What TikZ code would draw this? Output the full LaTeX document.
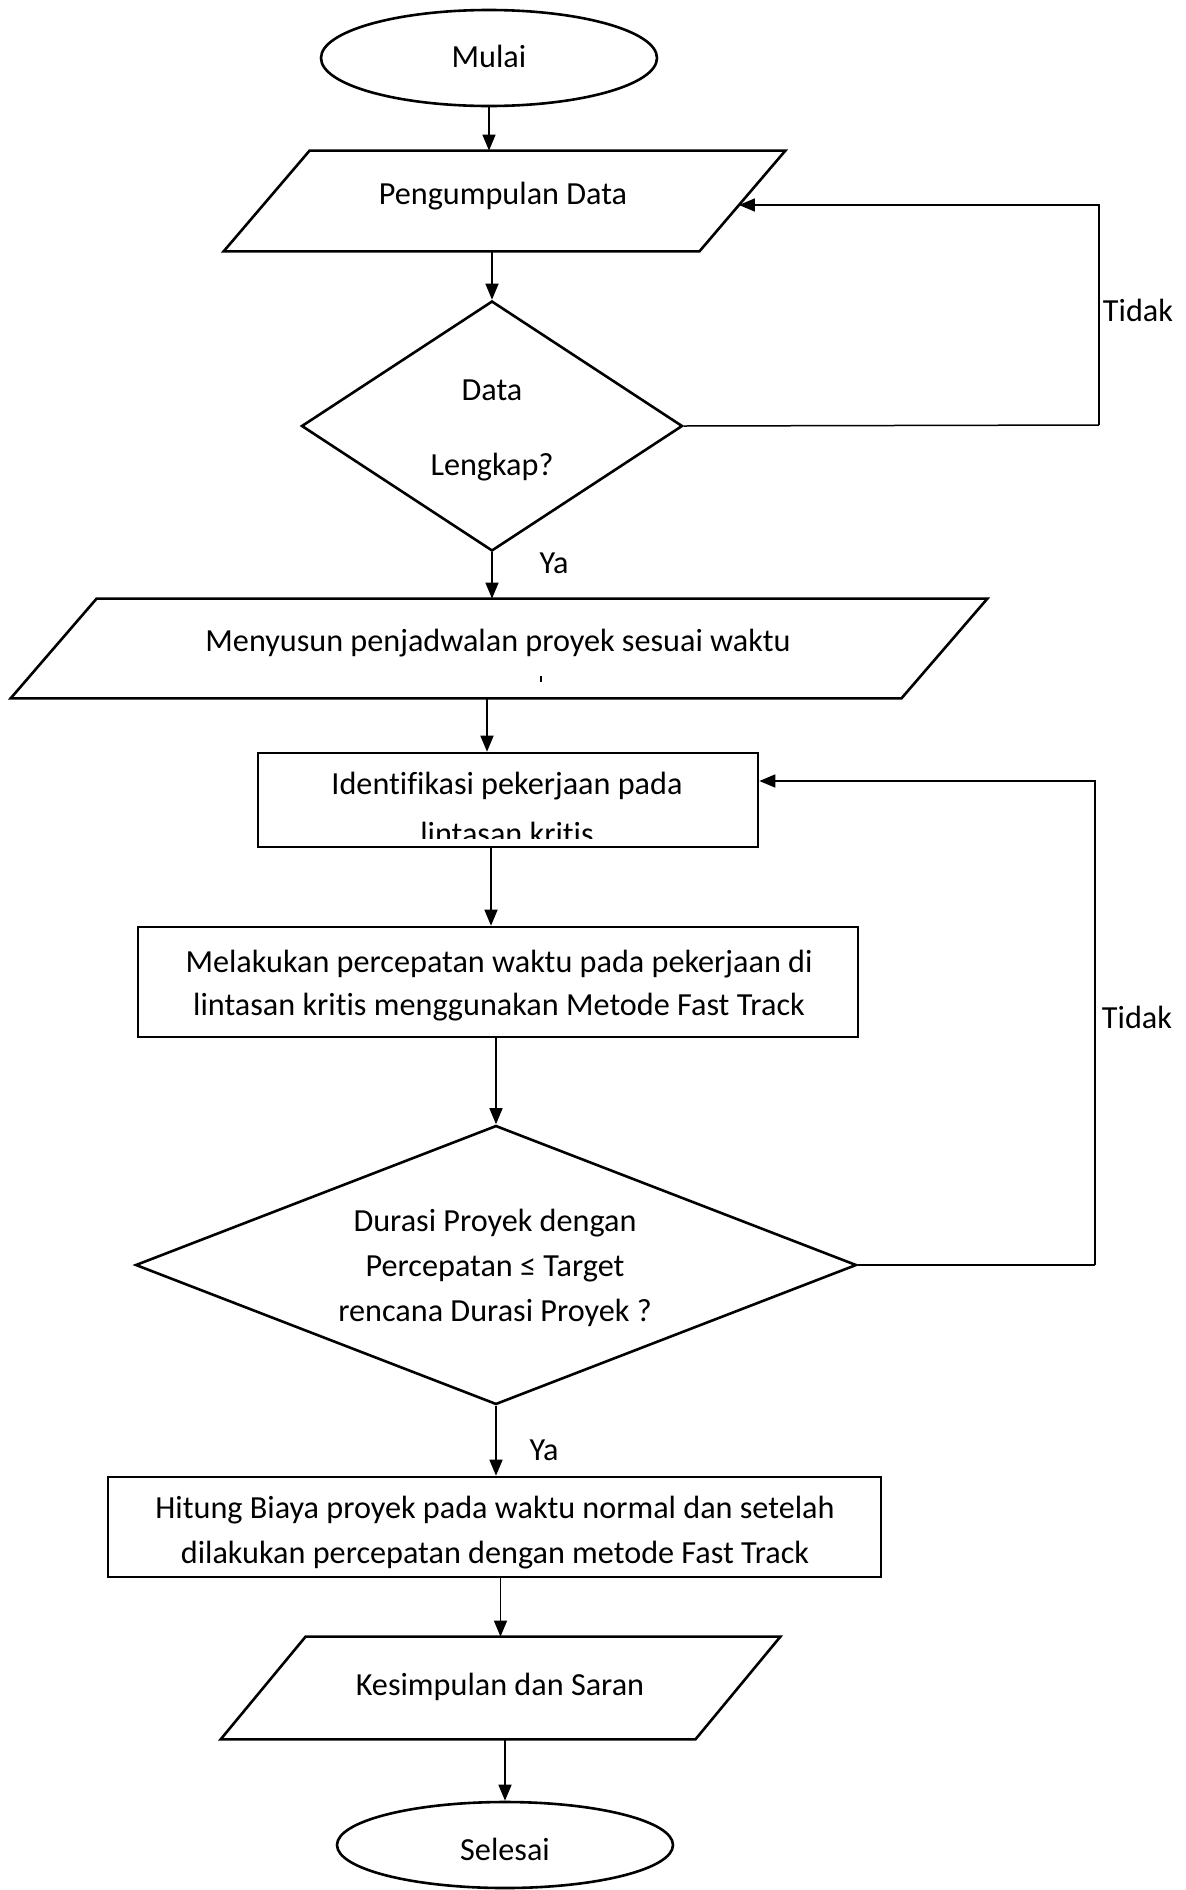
\documentclass[tikz,border=0pt]{standalone}
\usepackage{fontspec}
\setmainfont{Carlito}[Ligatures=NoCommon]
\usetikzlibrary{shapes.geometric,arrows.meta,calc}
\begin{document}
\begin{tikzpicture}[x=0.5pt,y=-0.5pt,
  every node/.style={font=\fontsize{16.1}{22.5}\selectfont},
  shp/.style={draw=black, line width=1.3pt, inner sep=0pt},
  boxshape/.style={shp, rectangle},
  term/.style={shp, ellipse},
  dec/.style={shp, diamond},
  iobody/.style={rectangle, inner sep=0pt},
  txt/.style={align=center, inner sep=0pt},
  arr/.style={line width=0.75pt, -{Triangle[length=8pt,width=6.5pt]}},
  ln/.style={line width=0.75pt},
  shpline/.style={line width=1.3pt, line join=miter}
]
\useasboundingbox (0,0) rectangle (1186,1890);

% shapes
\node[term, minimum width=168pt, minimum height=48pt] (mulai) at (489,58) {};
\node[txt] (mulait) at (489,56) {Mulai};

\node[iobody, minimum width=237.5pt, minimum height=50pt] (pd) at (504.5,201) {};
\draw[shpline] ($(pd.north west)+(43,0)$) -- ($(pd.north east)+(43,0)$) -- ($(pd.south east)+(-43,0)$) -- ($(pd.south west)+(-43,0)$) -- cycle;
\node[txt] (pdt) at (503,196) {Pengumpulan Data};

\node[dec, minimum width=190.5pt, minimum height=125pt] (d1) at (492,426) {};
\node[txt] (d1t) at (492,430) {Data\\[15pt]Lengkap?};

\node[iobody, minimum width=445pt, minimum height=49.5pt] (wide) at (499,648.5) {};
\draw[shpline] ($(wide.north west)+(43,0)$) -- ($(wide.north east)+(43,0)$) -- ($(wide.south east)+(-43,0)$) -- ($(wide.south west)+(-43,0)$) -- cycle;
\node[txt] (widet) at (498,643) {Menyusun penjadwalan proyek sesuai waktu};
\node[inner sep=0pt] (tick) at (541,679) {\rule{0.9pt}{3.2pt}};

\node[boxshape, minimum width=250pt, minimum height=47pt] (ident) at (508,800) {};
\node[txt] (identt) at (507,786) {Identifikasi pekerjaan pada};
\begin{scope}
  \clip (258,755) rectangle (758,838);
  \node[txt, anchor=base] (identt2) at (507,844) {lintasan kritis};
\end{scope}

\node[boxshape, minimum width=360pt, minimum height=55pt] (melak) at (498,982) {};
\node[txt] (melakt) at (499,986) {Melakukan percepatan waktu pada pekerjaan di\\[-1pt]lintasan kritis menggunakan Metode Fast Track};

\node[dec, minimum width=360.5pt, minimum height=139.5pt] (d2) at (496,1265) {};
\node[txt] (d2t) at (495,1268) {Durasi Proyek dengan\\Percepatan ≤ Target\\rencana Durasi Proyek ?};

\node[boxshape, minimum width=386.5pt, minimum height=50pt] (hitung) at (494.5,1527) {};
\node[txt] (hitungt) at (495,1533) {Hitung Biaya proyek pada waktu normal dan setelah\\dilakukan percepatan dengan metode Fast Track};

\node[iobody, minimum width=237pt, minimum height=51pt] (kes) at (500.5,1688) {};
\draw[shpline] ($(kes.north west)+(42.5,0)$) -- ($(kes.north east)+(42.5,0)$) -- ($(kes.south east)+(-42.5,0)$) -- ($(kes.south west)+(-42.5,0)$) -- cycle;
\node[txt] (kest) at (500,1687) {Kesimpulan dan Saran};

\node[term, minimum width=168pt, minimum height=43pt] (selesai) at (505,1845) {};
\node[txt] (selesait) at (505,1849) {Selesai};

% labels
\node[txt] (tidak1) at (1138,310) {Tidak};
\node[txt] (tidak2) at (1137,1017) {Tidak};
\node[txt] (ya1) at (554,563) {Ya};
\node[txt] (ya2) at (544,1450) {Ya};

% connectors
\draw[arr] (mulai.south) -- (mulai.south |- pd.north);
\draw[arr] (d1.north |- pd.south) -- (d1.north);
\draw[arr] (d1.south) -- (d1.south |- wide.north);
\coordinate (c4) at ($(ident.north)+(-21,0)$);
\draw[arr] (c4 |- wide.south) -- (c4);
\coordinate (c5) at ($(ident.south)+(-17,0)$);
\draw[arr] (c5) -- (c5 |- melak.north);
\draw[arr] (d2.north |- melak.south) -- (d2.north);
\draw[arr] (d2.south) -- (d2.south |- hitung.north);
\draw[arr] (kes.north |- hitung.south) -- (kes.north);
\draw[arr] (selesai.north |- kes.south) -- (selesai.north);

% loops
\coordinate (l1) at (1099,425);
\draw[ln] (d1.east) -- (l1);
\coordinate (pdin) at ($(pd.east)+(-3.5,4)$);
\draw[arr] (l1) |- (pdin);
\coordinate (l2) at (1095,1265);
\draw[ln] (d2.east) -- (l2);
\coordinate (identin) at ($(ident.east)+(0,-19)$);
\draw[arr] (l2) |- (identin);
\end{tikzpicture}
\end{document}
